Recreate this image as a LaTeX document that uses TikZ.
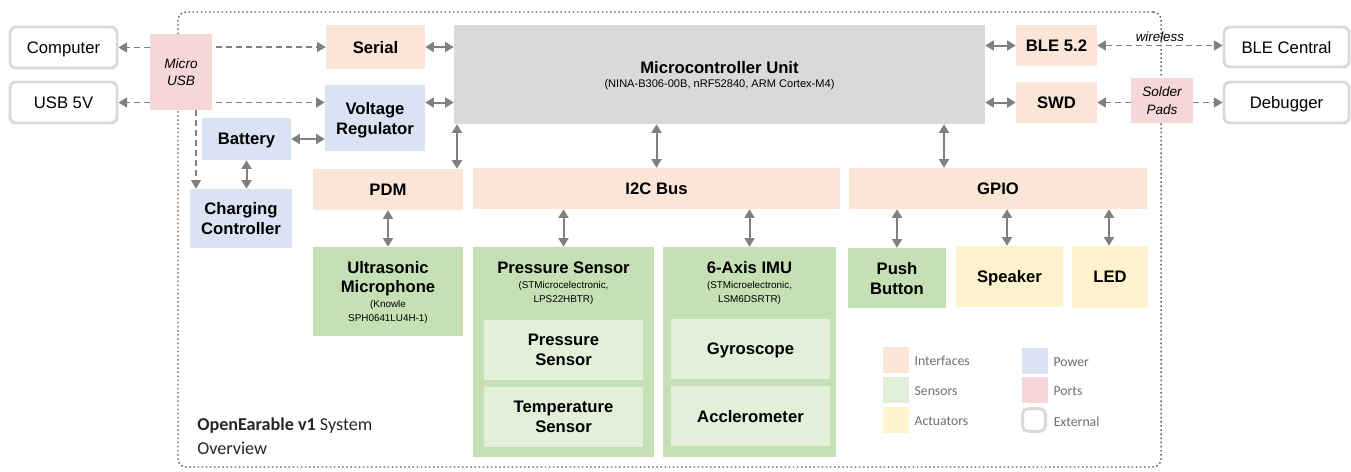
\documentclass[tikz,border=0pt]{standalone}
\usepackage{fontspec}
\setmainfont{Liberation Sans}
\newfontfamily\legendfont{Carlito}
\usetikzlibrary{arrows.meta,positioning}
\definecolor{ifacecolor}{HTML}{FBE5D6}
\definecolor{powercolor}{HTML}{DAE3F3}
\definecolor{sensorcolor}{HTML}{C5E0B4}
\definecolor{subsensorcolor}{HTML}{E2F0D9}
\definecolor{actcolor}{HTML}{FFF2CC}
\definecolor{portcolor}{HTML}{F5D7DA}
\definecolor{mcucolor}{HTML}{D9D9D9}
\definecolor{linkcolor}{HTML}{808080}
\definecolor{extcolor}{HTML}{D9D9D9}
\definecolor{legendtext}{HTML}{6E6E6E}
\newcommand{\partno}{\fontsize{7.4}{8.5}\selectfont\mdseries}
\tikzset{
	% box given by its corners, in pixels
	spot/.style n args={4}{
		minimum width={(#3-#1)*0.75pt},
		minimum height={(#4-#2)*0.75pt},
		at={({(#1+#3)/2},{(#2+#4)/2})}
	},
	block/.style={
		inner sep=0pt,
		align=center,
		text depth=0pt,
		font=\fontsize{12.5}{15}\selectfont\bfseries
	},
	iface/.style={block, fill=ifacecolor},
	power/.style={block, fill=powercolor},
	sensor/.style={block, fill=sensorcolor},
	subsensor/.style={block, fill=subsensorcolor},
	actuator/.style={block, fill=actcolor},
	port/.style={
		block,
		fill=portcolor,
		font=\fontsize{10.2}{13}\selectfont\itshape
	},
	external/.style={
		block,
		draw=extcolor,
		line width=2.2pt,
		rounded corners=4.5pt,
		font=\fontsize{12.5}{15}\selectfont
	},
	system/.style={
		draw=black!65,
		line width=1.1pt,
		dotted,
		rounded corners=6pt,
		inner sep=0pt
	},
	link/.style={
		draw=linkcolor,
		line width=1.5pt,
		>={Triangle[width=7.5pt,length=6.5pt]}
	},
	wire/.style={
		link,
		line width=1.1pt,
		dash pattern=on 4.5pt off 3pt
	},
	swatch/.style={
		inner sep=0pt,
		minimum size=19.5pt
	},
	legendlabel/.style={
		font=\legendfont\fontsize{10.3}{12}\selectfont,
		text=legendtext,
		inner sep=0pt,
		yshift=-1pt
	}
}

\begin{document}
\begin{tikzpicture}[x=0.75pt,y=-0.75pt]
	\useasboundingbox (0,0) rectangle (1351,471);
	% system boundary
	\node[system, spot={178}{12}{1161}{467}] (board) {};

	% external devices
	\node[external, spot={10}{27}{117}{68}] (computer) {Computer};
	\node[external, spot={10}{82}{117}{123}] (usb5v) {USB 5V};
	\node[external, spot={1224}{27}{1349}{67}] (central) {BLE Central};
	\node[external, spot={1224}{82}{1349}{123}] (debugger) {Debugger};

	% ports
	\node[port, spot={150}{34}{212}{110}] (microusb) {Micro\\USB};
	\node[port, spot={1131}{78}{1193}{123}] (pads) {Solder\\Pads};

	% power
	\node[power, spot={325}{85}{425}{151}] (vreg) {Voltage\\Regulator};
	\node[power, spot={202}{118}{291}{160}] (battery) {Battery};
	\node[power, spot={190}{189}{292}{248}] (charger) {Charging\\Controller};

	% mcu and interfaces
	\node[block, fill=mcucolor, spot={454}{25}{985}{124}] (mcu)
		{Microcontroller Unit\\[-4pt]{\fontsize{8.3}{9}\selectfont\mdseries (NINA-B306-00B, nRF52840, ARM Cortex-M4)}};
	\node[iface, spot={326}{25}{425}{69}] (serial) {Serial};
	\node[iface, spot={1016}{25}{1097}{66}] (ble) {BLE 5.2};
	\node[iface, spot={1016}{82}{1097}{123}] (swd) {SWD};
	\node[iface, spot={313}{169}{463}{210}] (pdm) {PDM};
	\node[iface, spot={473}{168}{840}{209}] (i2c) {I2C Bus};
	\node[iface, spot={849}{168}{1147}{209}] (gpio) {GPIO};

	% sensors
	\node[sensor, spot={313}{247}{463}{336}] (mic)
		{Ultrasonic\\[-1pt]Microphone\\[-4pt]{\partno (Knowle}\\[-4.5pt]{\partno SPH0641LU4H-1)}};
	\node[sensor, spot={473}{247}{654}{457}] (pressure) {};
	\node[block] (pressurehead) at (563.5,282)
		{Pressure Sensor\\[-4pt]{\partno (STMicrocelectronic,}\\[-4.5pt]{\partno LPS22HBTR)}};
	\node[subsensor, spot={484}{320}{643}{380}] (baro) {Pressure\\Sensor};
	\node[subsensor, spot={484}{387}{643}{447}] (temp) {Temperature\\Sensor};
	\node[sensor, spot={663}{247}{836}{457}] (imu) {};
	\node[block] (imuhead) at (749.5,282)
		{6-Axis IMU\\[-4pt]{\partno (STMicroelectronic,}\\[-4.5pt]{\partno LSM6DSRTR)}};
	\node[subsensor, spot={671}{319}{830}{379}] (gyro) {Gyroscope};
	\node[subsensor, spot={671}{386}{830}{446}] (accel) {Acclerometer};
	\node[sensor, spot={848}{248}{946}{308}] (button) {Push\\Button};

	% actuators
	\node[actuator, spot={956}{246}{1063}{307}] (speaker) {Speaker};
	\node[actuator, spot={1072}{246}{1148}{308}] (led) {LED};

	% usb and pads (dashed)
	\draw[wire,->] (microusb.west |- computer) -- (computer.east);
	\draw[wire,->] ([xshift=3pt]microusb.east |- serial) -- (serial.west);
	\draw[wire,->] (microusb.west |- usb5v) -- (usb5v.east);
	\draw[wire,->] ([xshift=3pt]microusb.east |- usb5v) -- (vreg.west |- usb5v);
	\draw[wire,->] (microusb.south -| 196,0) -- (charger.north -| 196,0);
	\draw[wire,<->] (ble.east) -- (central.west |- ble)
		node[midway, above=1pt, font=\fontsize{10}{12}\selectfont\itshape, inner sep=1pt] (wl) {wireless};
	\draw[wire,->] (pads.west |- swd) -- (swd.east);
	\draw[wire,->] (pads.east |- swd) -- (debugger.west |- swd);

	% power links
	\draw[link,<->] (battery.east) -- (vreg.west |- battery);
	\draw[link,<->] (battery.south) -- (battery.south |- charger.north);

	% mcu links
	\draw[link,<->] (serial.east) -- (mcu.west |- serial);
	\draw[link,<->] (vreg.east |- usb5v) -- (mcu.west |- usb5v);
	\draw[link,<->] (mcu.east |- ble) -- (ble.west);
	\draw[link,<->] (mcu.east |- swd) -- (swd.west);
	\draw[link,<->] (mcu.south -| 457,0) -- (pdm.north -| 457,0);
	\draw[link,<->] (mcu.south -| i2c.north) -- (i2c.north);
	\draw[link,<->] (mcu.south -| 944,0) -- (gpio.north -| 944,0);

	% bus links
	\draw[link,<->] (pdm.south) -- (mic.north);
	\draw[link,<->] (i2c.south -| pressure.north) -- (pressure.north);
	\draw[link,<->] (i2c.south -| imu.north) -- (imu.north);
	\draw[link,<->] (gpio.south -| button.north) -- (button.north);
	\draw[link,<->] (gpio.south -| 1007,0) -- (speaker.north -| 1007,0);
	\draw[link,<->] (gpio.south -| 1109,0) -- (led.north -| 1109,0);

	% legend
	\node[swatch, fill=ifacecolor] (leg1) at (896,360) {};
	\node[swatch, fill=subsensorcolor] (leg2) at (896,390) {};
	\node[swatch, fill=actcolor] (leg3) at (896,420) {};
	\node[swatch, fill=powercolor] (leg4) at (1035,361) {};
	\node[swatch, fill=portcolor] (leg5) at (1035,390) {};
	\node[swatch, draw=extcolor, line width=2.2pt, rounded corners=4pt, minimum size=17pt] (leg6) at (1034,420) {};
	\node[legendlabel, right=3.8pt of leg1] (legtext1) {Interfaces};
	\node[legendlabel, right=3.8pt of leg2] (legtext2) {Sensors};
	\node[legendlabel, right=3.8pt of leg3] (legtext3) {Actuators};
	\node[legendlabel, right=3.8pt of leg4] (legtext4) {Power};
	\node[legendlabel, right=3.8pt of leg5] (legtext5) {Ports};
	\node[legendlabel, right=5pt of leg6] (legtext6) {External};

	% title
	\node[anchor=north west, align=left, inner sep=0pt, text=black!85,
		font=\legendfont\fontsize{13.6}{17.3}\selectfont] (title) at (197,418)
		{\textbf{OpenEarable v1} System\\Overview};
\end{tikzpicture}
\end{document}
